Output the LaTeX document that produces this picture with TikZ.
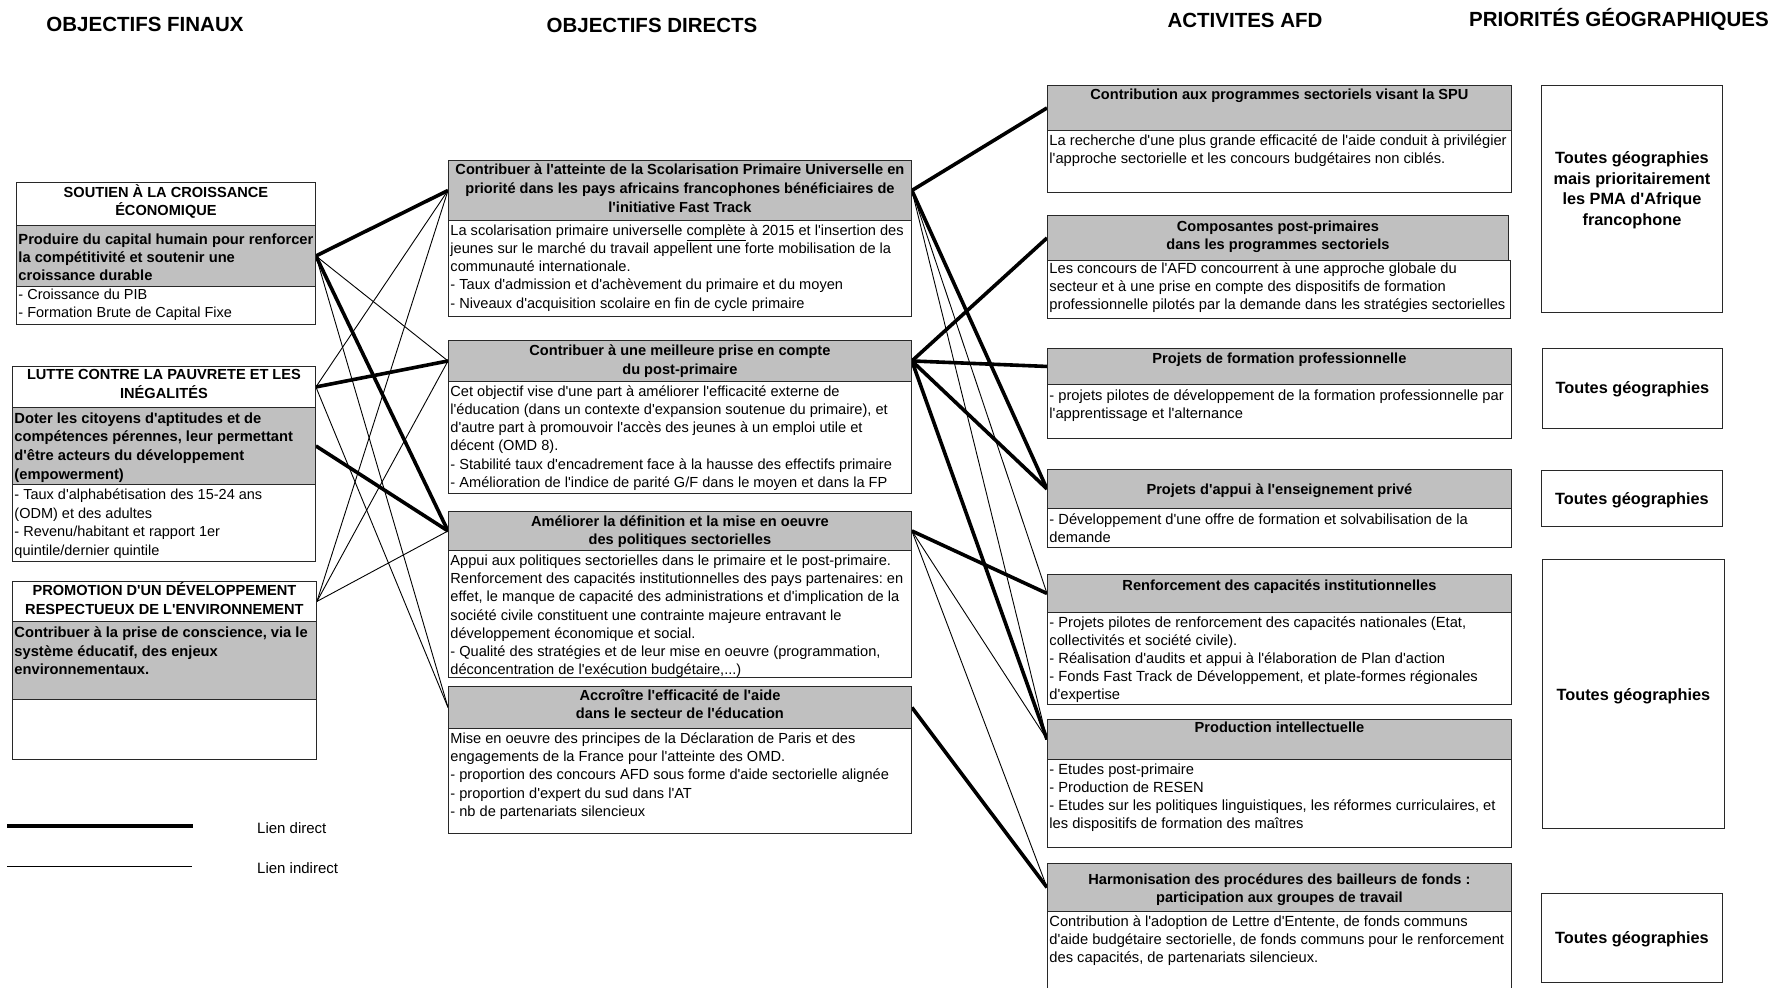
\documentclass[tikz,border=0pt]{standalone}
\usepackage{fontspec}
\setmainfont{Liberation Sans}[Ligatures=TeXOff]
\usetikzlibrary{backgrounds}
\definecolor{boxgrey}{RGB}{192,192,192}
\definecolor{boxline}{RGB}{40,40,40}
\frenchspacing
% name, x, y, w, h, node options, top pad, column align (l/c), text
\newcommand{\bx}[9]{%
  \node[boxsty,#6] (#1) at (#2,#3) {\begin{minipage}[t][#5pt][t]{\dimexpr#4pt-4pt\relax}\frenchspacing\vspace*{#7pt}\ifx c#8\centering\fi\begin{tabular}[t]{@{}#8@{}}#9\end{tabular}\end{minipage}};}
\tikzset{
  boxsty/.style={draw=boxline, line width=0.9pt, anchor=north west, inner xsep=2pt, inner ysep=0pt},
  ltitleA/.style={fill=white, font=\bfseries\fontsize{14.6}{18}\selectfont},
  ltitleB/.style={fill=white, font=\bfseries\fontsize{14.6}{19}\selectfont},
  lgreyA/.style={fill=boxgrey, font=\bfseries\fontsize{14.7}{18}\selectfont},
  lgreyB/.style={fill=boxgrey, font=\bfseries\fontsize{14.7}{18.8}\selectfont},
  lbodyA/.style={fill=white, font=\fontsize{14.5}{18}\selectfont},
  lbodyB/.style={fill=white, font=\fontsize{14.5}{18.5}\selectfont},
  mhead/.style={fill=boxgrey, font=\bfseries\fontsize{14.6}{18.8}\selectfont},
  mbody/.style={fill=white, font=\fontsize{14.6}{18.2}\selectfont},
  rhead/.style={fill=boxgrey, font=\bfseries\fontsize{14.6}{18.3}\selectfont},
  rbody/.style={fill=white, font=\fontsize{14.7}{18}\selectfont},
  prio/.style={fill=white, font=\bfseries\fontsize{16.3}{20.7}\selectfont},
  coltitle/.style={font=\bfseries\fontsize{20.5}{24}\selectfont, inner sep=0pt, anchor=base},
  legtext/.style={font=\fontsize{15}{18}\selectfont, inner sep=0pt, anchor=base west},
  lnkdir/.style={line width=3.6pt, black},
  lnkind/.style={line width=0.9pt, black},
}
\begin{document}
\begin{tikzpicture}[x=1pt,y=-1pt]
\useasboundingbox (0,0) rectangle (1773,988);

% column titles
\node[coltitle] (t1) at (145,31.5) {OBJECTIFS FINAUX};
\node[coltitle] (t2) at (652,32.5) {OBJECTIFS DIRECTS};
\node[coltitle] (t3) at (1245,27.5) {ACTIVITES AFD};
\node[coltitle] (t4) at (1619,26.5) {PRIORITÉS GÉOGRAPHIQUES};

% ---------- left column ----------
\bx{L1t}{16}{182}{299}{43}{ltitleA}{2}{c}{SOUTIEN À LA CROISSANCE\\ÉCONOMIQUE}
\bx{L1g}{16}{225}{299}{61}{lgreyA}{6.5}{l}{Produire du capital humain pour renforcer\\la compétitivité et soutenir une\\croissance durable}
\bx{L1b}{16}{286}{299}{38}{lbodyA}{0}{l}{- Croissance du PIB\\- Formation Brute de Capital Fixe}

\bx{L2t}{12}{366}{303}{41}{ltitleB}{0}{c}{LUTTE CONTRE LA PAUVRETE ET LES\\INÉGALITÉS}
\bx{L2g}{12}{407}{303}{77}{lgreyB}{2.5}{l}{Doter les citoyens d'aptitudes et de\\compétences pérennes, leur permettant\\d'être acteurs du développement\\(empowerment)}
\bx{L2b}{12}{484}{303}{77}{lbodyB}{2.5}{l}{- Taux d'alphabétisation des 15-24 ans\\(ODM) et des adultes\\- Revenu/habitant et rapport 1er\\quintile/dernier quintile}

\bx{L3t}{12}{581}{304}{40}{ltitleB}{0.3}{c}{PROMOTION D'UN DÉVELOPPEMENT\\RESPECTUEUX DE L'ENVIRONNEMENT}
\bx{L3g}{12}{621}{304}{78}{lgreyB}{2.6}{l}{Contribuer à la prise de conscience, via le\\système éducatif, des enjeux\\environnementaux.}
\bx{L3b}{12}{699}{304}{60}{lbodyA}{0}{l}{}

% ---------- middle column ----------
\bx{Ah}{448}{160}{463}{60}{mhead}{1}{c}{Contribuer à l'atteinte de la Scolarisation Primaire Universelle en\\priorité dans les pays africains francophones bénéficiaires de\\l'initiative Fast Track}
\bx{Ab}{448}{220}{463}{96}{mbody}{2.2}{l}{La scolarisation primaire universelle \underline{complète} à 2015 et l'insertion des\\jeunes sur le marché du travail appellent une forte mobilisation de la\\communauté internationale.\\- Taux d'admission et d'achèvement du primaire et du moyen\\- Niveaux d'acquisition scolaire en fin de cycle primaire}

\bx{Bh}{448}{340}{463}{41}{mhead}{2.2}{c}{Contribuer à une meilleure prise en compte\\du post-primaire}
\bx{Bb}{448}{381}{463}{112}{mbody}{2.1}{l}{Cet objectif vise d'une part à améliorer l'efficacité externe de\\l'éducation (dans un contexte d'expansion soutenue du primaire), et\\d'autre part à promouvoir l'accès des jeunes à un emploi utile et\\décent (OMD 8).\\- Stabilité taux d'encadrement face à la hausse des effectifs primaire\\- Amélioration de l'indice de parité G/F dans le moyen et dans la FP}

\bx{Ch}{448}{511}{463}{39}{mhead}{1.4}{c}{Améliorer la définition et la mise en oeuvre\\des politiques sectorielles}
\bx{Cb}{448}{550}{463}{127}{mbody}{2.4}{l}{Appui aux politiques sectorielles dans le primaire et le post-primaire.\\Renforcement des capacités institutionnelles des pays partenaires: en\\effet, le manque de capacité des administrations et d'implication de la\\société civile constituent une contrainte majeure entravant le\\développement économique et social.\\- Qualité des stratégies et de leur mise en oeuvre (programmation,\\déconcentration de l'exécution budgétaire,...)}

\bx{Dh}{448}{686}{463}{42}{mhead}{0.5}{c}{Accroître l'efficacité de l'aide\\dans le secteur de l'éducation}
\bx{Db}{448}{728}{463}{105}{mbody}{2.4}{l}{Mise en oeuvre des principes de la Déclaration de Paris et des\\engagements de la France pour l'atteinte des OMD.\\- proportion des concours AFD sous forme d'aide sectorielle alignée\\- proportion d'expert du sud dans l'AT\\- nb de partenariats silencieux}

% ---------- right column ----------
\bx{R1h}{1047}{85}{464}{45}{rhead}{1.6}{c}{Contribution aux programmes sectoriels visant la SPU}
\bx{R1b}{1047}{130}{464}{62}{rbody}{2.1}{l}{La recherche d'une plus grande efficacité de l'aide conduit à privilégier\\l'approche sectorielle et les concours budgétaires non ciblés.}

\bx{R2h}{1047}{215}{461}{45}{rhead}{2.9}{c}{Composantes post-primaires\\dans les programmes sectoriels}
\bx{R2b}{1047}{260}{463}{58}{rbody}{0}{l}{Les concours de l'AFD concourrent à une approche globale du\\secteur et à une prise en compte des dispositifs de formation\\professionnelle pilotés par la demande dans les stratégies sectorielles}

\bx{R3h}{1047}{348}{464}{36}{rhead}{2.1}{c}{Projets de formation professionnelle}
\bx{R3b}{1047}{384}{464}{54}{rbody}{3}{l}{- projets pilotes de développement de la formation professionnelle par\\l'apprentissage et l'alternance}

\bx{R4h}{1047}{469}{464}{39}{rhead}{12}{c}{Projets d'appui à l'enseignement privé}
\bx{R4b}{1047}{508}{464}{39}{rbody}{3.7}{l}{- Développement d'une offre de formation et solvabilisation de la\\demande}

\bx{R5h}{1047}{574}{464}{38}{rhead}{3}{c}{Renforcement des capacités institutionnelles}
\bx{R5b}{1047}{612}{464}{92}{rbody}{2.3}{l}{- Projets pilotes de renforcement des capacités nationales (Etat,\\collectivités et société civile).\\- Réalisation d'audits et appui à l'élaboration de Plan d'action\\- Fonds Fast Track de Développement, et plate-formes régionales\\d'expertise}

\bx{R6h}{1047}{719}{464}{40}{rhead}{0.3}{c}{Production intellectuelle}
\bx{R6b}{1047}{759}{464}{88}{rbody}{2.4}{l}{- Etudes post-primaire\\- Production de RESEN\\- Etudes sur les politiques linguistiques, les réformes curriculaires, et\\les dispositifs de formation des maîtres}

\bx{R7h}{1047}{863}{464}{48}{rhead}{8.2}{c}{Harmonisation des procédures des bailleurs de fonds :\\participation aux groupes de travail}
\bx{R7b}{1047}{911}{464}{82}{rbody}{2.9}{l}{Contribution à l'adoption de Lettre d'Entente, de fonds communs\\d'aide budgétaire sectorielle, de fonds communs pour le renforcement\\des capacités, de partenariats silencieux.}

% ---------- priorities ----------
\bx{P1}{1541}{85}{181}{227}{prio}{63.5}{c}{Toutes géographies\\mais prioritairement\\les PMA d'Afrique\\francophone}
\bx{P2}{1542}{348}{180}{80}{prio}{30.6}{c}{Toutes géographies}
\bx{P3}{1541}{470}{181}{56}{prio}{19.2}{c}{Toutes géographies}
\bx{P4}{1542}{559}{182}{269}{prio}{126.6}{c}{Toutes géographies}
\bx{P5}{1541}{893}{181}{89}{prio}{35.3}{c}{Toutes géographies}

% ---------- connectors ----------
\begin{pgfonlayer}{background}
\draw[lnkdir] (L1g.east) -- (Ah.west);
\draw[lnkind] (L1g.east) -- (Bh.west);
\draw[lnkdir] (L1g.east) -- (Ch.west);
\draw[lnkind] (L1g.east) -- (Dh.west);
\draw[lnkind] (L2t.east) -- (Ah.west);
\draw[lnkdir] (L2t.east) -- (Bh.west);
\draw[lnkind] (L2t.east) -- (Dh.west);
\draw[lnkdir] (L2g.east) -- (Ch.west);
\draw[lnkind] (L3t.east) -- (Ah.west);
\draw[lnkind] (L3t.east) -- (Bh.west);
\draw[lnkind] (L3t.east) -- (Ch.west);

\draw[lnkdir] (Ah.east) -- (R1h.west);
\draw[lnkdir] (Ah.east) -- (R4h.west);
\draw[lnkind] (Ah.east) -- (R5h.west);
\draw[lnkind] (Ah.east) -- (R6h.west);
\draw[lnkdir] (Bh.east) -- (R2h.west);
\draw[lnkdir] (Bh.east) -- (R3h.west);
\draw[lnkdir] (Bh.east) -- (R4h.west);
\draw[lnkdir] (Bh.east) -- (R6h.west);
\draw[lnkdir] (Ch.east) -- (R5h.west);
\draw[lnkind] (Ch.east) -- (R6h.west);
\draw[lnkind] (Ch.east) -- (R7h.west);
\draw[lnkdir] (Dh.east) -- (R7h.west);
\end{pgfonlayer}

% ---------- legend ----------
\coordinate (lgA1) at (7,826);
\coordinate (lgA2) at (193,826);
\coordinate (lgB1) at (7,866);
\coordinate (lgB2) at (192,866);
\draw[lnkdir] (lgA1) -- (lgA2);
\draw[lnkind] (lgB1) -- (lgB2);
\node[legtext] (lgT1) at (257,833) {Lien direct};
\node[legtext] (lgT2) at (257,873) {Lien indirect};
\end{tikzpicture}
\end{document}
